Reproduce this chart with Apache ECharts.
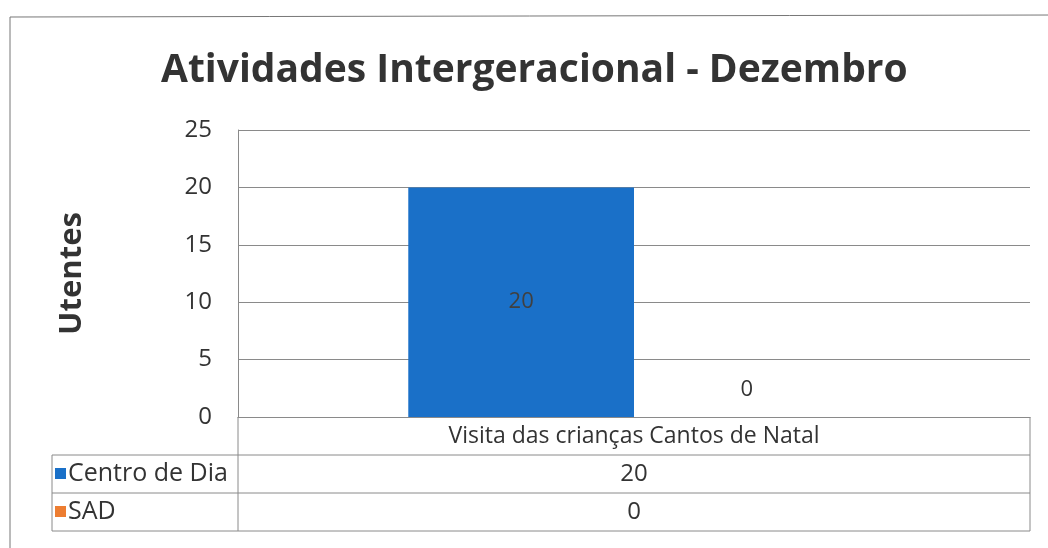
<!DOCTYPE html>
<html>
<head>
<meta charset="utf-8">
<script src="https://cdn.jsdelivr.net/npm/echarts@6/dist/echarts.min.js"></script>
<style>
  html, body { margin: 0; padding: 0; background: #ffffff; }
  #chart { width: 1048px; height: 548px; }
</style>
</head>
<body>
<div id="chart"></div>
<script>
// dados do gráfico
const categories = ['Visita das crianças Cantos de Natal']
const seriesNames = ['Centro de Dia', 'SAD']
const centroDia = [20]
const sad = [0]
const colors = ['#1a70c8', '#ed7d31']

const font = 'Open Sans'
const gridLeft = 238
const gridRight = 1030
const gridBottom = 417
const rowH = 38
const tableLeft = 52
const lineColor = '#8a8a8a'

var chartDom = document.getElementById('chart')
var myChart = echarts.init(chartDom)

// tabela de dados por baixo do eixo
const tableGraphic = []
const rows = [centroDia, sad]
for (let r = 0; r < 3; r++) {
  const y = gridBottom + rowH * (r + 1)
  tableGraphic.push({
    type: 'line',
    shape: { x1: tableLeft, y1: y, x2: gridRight, y2: y },
    style: { stroke: lineColor, lineWidth: 1 }
  })
}
tableGraphic.push(
  { type: 'line', shape: { x1: tableLeft, y1: gridBottom + rowH, x2: tableLeft, y2: gridBottom + rowH * 3 }, style: { stroke: lineColor, lineWidth: 1 } },
  { type: 'line', shape: { x1: gridLeft, y1: gridBottom, x2: gridLeft, y2: gridBottom + rowH * 3 }, style: { stroke: lineColor, lineWidth: 1 } },
  { type: 'line', shape: { x1: gridRight, y1: gridBottom, x2: gridRight, y2: gridBottom + rowH * 3 }, style: { stroke: lineColor, lineWidth: 1 } }
)
for (let i = 0; i < seriesNames.length; i++) {
  const cy = gridBottom + rowH * (i + 1) + rowH / 2
  tableGraphic.push({
    type: 'rect',
    shape: { x: 55, y: cy - 6, width: 11, height: 11 },
    style: { fill: colors[i] }
  })
  tableGraphic.push({
    type: 'text',
    x: 68, y: cy,
    style: { text: seriesNames[i], font: '25px "' + font + '"', fill: '#333', verticalAlign: 'middle' }
  })
  tableGraphic.push({
    type: 'text',
    x: (gridLeft + gridRight) / 2, y: cy,
    style: { text: String(rows[i][0]), font: '24px "' + font + '"', fill: '#333', align: 'center', verticalAlign: 'middle' }
  })
}
// moldura exterior do gráfico
tableGraphic.push({
  type: 'polyline',
  shape: { points: [[10, 560], [10, 17], [1060, 15]] },
  style: { stroke: '#777', lineWidth: 1, fill: null }
})

var option = {
  backgroundColor: '#ffffff',
  animation: false,
  title: {
    text: 'Atividades Intergeracional - Dezembro',
    left: 156,
    top: 46,
    textStyle: { fontFamily: font, fontWeight: 'bold', fontSize: 39, color: '#333' }
  },
  grid: { left: gridLeft, right: 1048 - gridRight, top: 130, bottom: 548 - gridBottom },
  xAxis: {
    type: 'category',
    data: categories,
    axisLine: { show: true, lineStyle: { color: lineColor } },
    axisTick: { show: false },
    axisLabel: { fontFamily: font, fontSize: 23, color: '#333', margin: 8 }
  },
  yAxis: {
    type: 'value',
    min: 0,
    max: 25,
    interval: 5,
    name: 'Utentes',
    nameLocation: 'middle',
    nameGap: 150,
    nameTextStyle: { fontFamily: font, fontWeight: 'bold', fontSize: 31, color: '#333' },
    axisLine: { show: true, lineStyle: { color: lineColor } },
    axisLabel: { fontFamily: font, fontSize: 24, color: '#333', margin: 26 },
    splitLine: { lineStyle: { color: lineColor } }
  },
  graphic: tableGraphic,
  series: [
    {
      name: seriesNames[0],
      type: 'bar',
      data: centroDia,
      barGap: '0%',
      barCategoryGap: '43%',
      itemStyle: { color: colors[0] },
      label: { show: true, position: 'inside', fontFamily: font, fontSize: 22, color: '#404040' }
    },
    {
      name: seriesNames[1],
      type: 'bar',
      data: sad,
      itemStyle: { color: colors[1] },
      label: { show: true, position: 'top', distance: 16, fontFamily: font, fontSize: 22, color: '#333' }
    }
  ]
}
option && myChart.setOption(option)
</script>
</body>
</html>
